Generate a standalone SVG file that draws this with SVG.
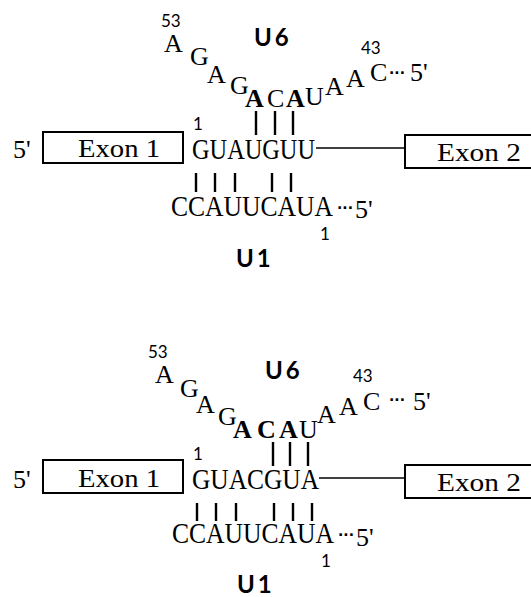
<svg xmlns="http://www.w3.org/2000/svg" width="531" height="597" viewBox="0 0 531 597">
  <style>
    .nt { font-family: "Liberation Serif", "Times New Roman", serif; font-size: 26px; fill: #000; }
    .ntb { font-family: "Liberation Serif", "Times New Roman", serif; font-size: 26px; font-weight: bold; fill: #000; }
    .seq { font-family: "Liberation Serif", "Times New Roman", serif; font-size: 29px; fill: #000; }
    .lab { font-family: "Liberation Serif", "Times New Roman", serif; font-size: 26px; fill: #000; }
    .num { font-family: Lato, "Open Sans", sans-serif; font-size: 17px; fill: #000; }
    .snr { font-family: Lato, "Open Sans", sans-serif; font-size: 24px; font-weight: bold; letter-spacing: 3px; fill: #000; }
    .dots { font-family: "DejaVu Sans", sans-serif; font-size: 14px; font-weight: bold; fill: #000; }
    .box { fill: #fff; stroke: #000; stroke-width: 2; }
    .pair { stroke: #000; stroke-width: 2.4; }
    .intron { stroke: #000; stroke-width: 1.6; }
  </style>

  <!-- ===== Upper panel: wild-type 5' splice site GUAUGU ===== -->
  <g id="top-panel">
    <g id="top-u6">
      <text class="num" x="161" y="27">53</text>
      <text class="snr" x="254" y="46">U6</text>
      <text class="nt" x="164" y="52">A</text>
      <text class="nt" x="190" y="65">G</text>
      <text class="nt" x="207" y="83">A</text>
      <text class="nt" x="230" y="94">G</text>
      <text class="ntb" x="245" y="107">A</text>
      <text class="nt" x="267" y="107">C</text>
      <text class="ntb" x="286" y="107">A</text>
      <text class="nt" x="305" y="105">U</text>
      <text class="nt" x="325" y="95">A</text>
      <text class="nt" x="346" y="87">A</text>
      <text class="nt" x="370" y="81">C</text>
      <text class="num" x="361" y="54">43</text>
      <text class="dots" x="389" y="78">···</text>
      <text class="lab" x="410" y="81">5'</text>
    </g>

    <g id="top-exon1">
      <text class="lab" x="13" y="158">5'</text>
      <rect class="box" x="43" y="132" width="140" height="31"/>
      <text class="lab" x="78" y="157" textLength="82" lengthAdjust="spacingAndGlyphs">Exon 1</text>
    </g>

    <g id="top-intron">
      <text class="num" x="193" y="130">1</text>
      <text class="seq" x="192" y="159" textLength="123" lengthAdjust="spacingAndGlyphs">GUAUGUU</text>
    </g>

    <g id="top-exon2">
      <rect class="box" x="405" y="135" width="140" height="33"/>
      <text class="lab" x="437" y="161" textLength="84" lengthAdjust="spacingAndGlyphs">Exon 2</text>
    </g>

    <g id="top-u1">
      <text class="seq" x="171" y="216" textLength="162" lengthAdjust="spacingAndGlyphs">CCAUUCAUA</text>
      <text class="dots" x="337" y="213">···</text>
      <text class="lab" x="355" y="218">5'</text>
      <text class="num" x="320" y="240">1</text>
      <text class="snr" x="236" y="267">U1</text>
    </g>

    <g id="top-connectors">
      <line class="intron" x1="316" y1="148" x2="405" y2="148"/>
      <line class="pair" x1="256" y1="111" x2="256" y2="135"/>
      <line class="pair" x1="275" y1="111" x2="275" y2="135"/>
      <line class="pair" x1="293" y1="111" x2="293" y2="135"/>
      <line class="pair" x1="196" y1="173" x2="196" y2="192"/>
      <line class="pair" x1="215" y1="173" x2="215" y2="192"/>
      <line class="pair" x1="235" y1="173" x2="235" y2="192"/>
      <line class="pair" x1="272" y1="173" x2="272" y2="192"/>
      <line class="pair" x1="291" y1="173" x2="291" y2="192"/>
    </g>
  </g>

  <!-- ===== Lower panel: mutant 5' splice site GUACGU ===== -->
  <g id="bottom-panel">
    <g id="bottom-u6">
      <text class="num" x="148" y="358">53</text>
      <text class="snr" x="265" y="379">U6</text>
      <text class="nt" x="155" y="383">A</text>
      <text class="nt" x="180" y="397">G</text>
      <text class="nt" x="196" y="413">A</text>
      <text class="nt" x="218" y="425">G</text>
      <text class="ntb" x="233" y="438">A</text>
      <text class="ntb" x="257" y="438">C</text>
      <text class="ntb" x="279" y="438">A</text>
      <text class="nt" x="299" y="438">U</text>
      <text class="nt" x="317" y="423">A</text>
      <text class="nt" x="339" y="415">A</text>
      <text class="nt" x="363" y="410">C</text>
      <text class="num" x="353" y="382">43</text>
      <text class="dots" x="389" y="405">···</text>
      <text class="lab" x="413" y="410">5'</text>
    </g>

    <g id="bottom-exon1">
      <text class="lab" x="13" y="488">5'</text>
      <rect class="box" x="43" y="460" width="140" height="33"/>
      <text class="lab" x="78" y="487" textLength="82" lengthAdjust="spacingAndGlyphs">Exon 1</text>
    </g>

    <g id="bottom-intron">
      <text class="num" x="193" y="460">1</text>
      <text class="seq" x="192" y="489" textLength="127" lengthAdjust="spacingAndGlyphs">GUACGUA</text>
    </g>

    <g id="bottom-exon2">
      <rect class="box" x="405" y="465" width="140" height="33"/>
      <text class="lab" x="437" y="491" textLength="84" lengthAdjust="spacingAndGlyphs">Exon 2</text>
    </g>

    <g id="bottom-u1">
      <text class="seq" x="172" y="543" textLength="162" lengthAdjust="spacingAndGlyphs">CCAUUCAUA</text>
      <text class="dots" x="338" y="540">···</text>
      <text class="lab" x="356" y="546">5'</text>
      <text class="num" x="321" y="567">1</text>
      <text class="snr" x="237" y="593">U1</text>
    </g>

    <g id="bottom-connectors">
      <line class="intron" x1="319" y1="478" x2="405" y2="478"/>
      <line class="pair" x1="273" y1="442" x2="273" y2="466"/>
      <line class="pair" x1="290" y1="442" x2="290" y2="466"/>
      <line class="pair" x1="308" y1="442" x2="308" y2="466"/>
      <line class="pair" x1="197" y1="503" x2="197" y2="521"/>
      <line class="pair" x1="216" y1="503" x2="216" y2="521"/>
      <line class="pair" x1="236" y1="503" x2="236" y2="521"/>
      <line class="pair" x1="274" y1="503" x2="274" y2="521"/>
      <line class="pair" x1="293" y1="503" x2="293" y2="521"/>
      <line class="pair" x1="312" y1="503" x2="312" y2="521"/>
    </g>
  </g>
</svg>
